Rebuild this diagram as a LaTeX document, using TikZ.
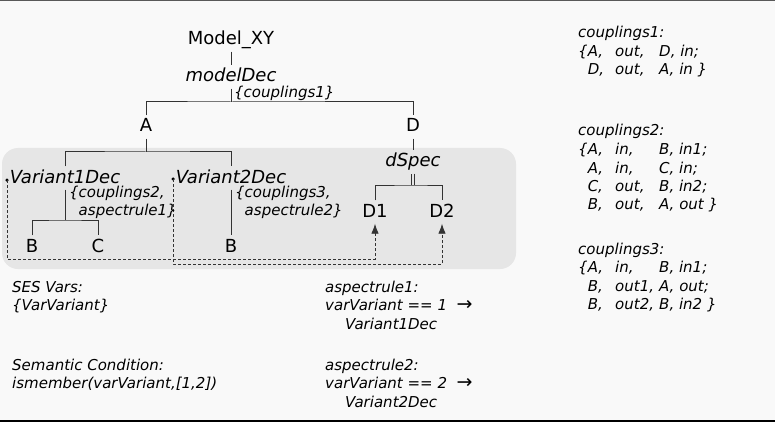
\documentclass[tikz,border=0pt]{standalone}
\usepackage{fontspec}
\setmainfont{DejaVu Sans}
\usetikzlibrary{arrows.meta}
\definecolor{paper}{HTML}{F9F9F9}
\definecolor{boxfill}{HTML}{E6E6E6}
\definecolor{treeline}{HTML}{333333}

\begin{document}
\begin{tikzpicture}[x=1pt,y=-1pt,
  ent/.style={inner xsep=2pt, inner ysep=3.5pt, text height=13pt, text depth=3pt, font=\fontsize{18}{22}\selectfont},
  dec/.style={ent, font=\fontsize{18}{22}\selectfont\itshape},
  note/.style={anchor=base west, inner sep=0pt, font=\fontsize{15}{18.5}\selectfont\itshape},
  branch/.style={draw=treeline, line width=1pt},
  spec/.style={draw=treeline, double=boxfill, double distance=2pt, line width=0.8pt},
  sel/.style={draw=treeline, line width=0.9pt, dash pattern=on 3pt off 2pt, -{Latex[length=10pt,width=7.5pt]}},
  pin/.style={circle, fill=black, inner sep=0pt, minimum size=3.5pt}]
\useasboundingbox (0,0) rectangle (775,422);
\fill[paper] (0,0) rectangle (775,422);
\draw[black!65, line width=1.5pt] (0,0.75) -- (775,0.75);
\draw[black, line width=2pt] (0,420.5) -- (775,420.5);
\fill[boxfill, rounded corners=16pt] (2,148) rectangle (516,269);

% tree
\node[ent] (mxy) at (231,40) {Model\_XY};
\node[dec] (mdec) at (231,77) {modelDec};
\node[ent] (A) at (146,127) {A};
\node[ent] (D) at (413,127) {D};
\node[dec] (v1) at (65,178) {Variant1Dec};
\node[dec] (v2) at (231,178) {Variant2Dec};
\node[dec] (dspec) at (413,162) {dSpec};
\node[ent] (B1) at (32,247) {B};
\node[ent] (C) at (98,247) {C};
\node[ent] (B2) at (231,247) {B};
\node[ent] (D1) at (375,212) {D1};
\node[ent] (D2) at (442,212) {D2};

\coordinate (top) at (231,102);
\coordinate (abar) at (146,152);
\coordinate (v1bar) at (65,220);
\coordinate (dbar) at (413,185);

\draw[branch] (mxy.south) -- (mdec.north);
\draw[branch] (mdec.south) -- (top);
\draw[branch] (A.north) |- (top) -| (D.north);
\draw[branch] (A.south) -- (abar);
\draw[branch] (v1.north) |- (abar) -| (v2.north);
\draw[branch] (v1.south) -- (v1bar);
\draw[branch] (B1.north) |- (v1bar) -| (C.north);
\draw[branch] (v2.south) -- (B2.north);
\draw[branch] (D.south) -- (dspec.north);
\draw[spec] (dspec.south) -- (dbar);
\draw[branch] (D1.north) |- (dbar) -| (D2.north);

% selection links
\node[pin] (p1) at (7,180) {};
\node[pin] (p2) at (173,179) {};
\coordinate (low1) at (7,259);
\coordinate (low2) at (173,264);
\draw[sel] (p1.center) -- (low1) -| (D1.south);
\draw[sel] (p2.center) -- (low2) -| (D2.south);

% couplings on the tree
\node[note] (c1lbl) at (234,98) {\{couplings1\}};
\node[note] (c2lbl) at (69,197) {\begin{tabular}[t]{@{}l@{}}\{couplings2,\\\phantom{\{}aspectrule1\}\end{tabular}};
\node[note] (c3lbl) at (235,197) {\begin{tabular}[t]{@{}l@{}}\{couplings3,\\\phantom{\{}aspectrule2\}\end{tabular}};

% notes below
\node[note] (sesvars) at (12,292) {\begin{tabular}[t]{@{}l@{}}SES Vars:\\\{VarVariant\}\end{tabular}};
\node[note] (semcond) at (12,370) {\begin{tabular}[t]{@{}l@{}}Semantic Condition:\\ismember(varVariant,[1,2])\end{tabular}};
\node[note] (rule1) at (325,292) {\begin{tabular}[t]{@{}l@{}}aspectrule1:\\varVariant == 1 \ {\upshape\fontsize{19}{18.5}\selectfont →}\\\hspace*{20pt}Variant1Dec\end{tabular}};
\node[note] (rule2) at (325,370) {\begin{tabular}[t]{@{}l@{}}aspectrule2:\\varVariant == 2 \ {\upshape\fontsize{19}{18.5}\selectfont →}\\\hspace*{20pt}Variant2Dec\end{tabular}};

% coupling lists
\node[note] (cp1) at (578,38) {\begin{tabular}[t]{@{}p{37pt}@{}p{44pt}@{}l@{}}
\multicolumn{3}{@{}l@{}}{couplings1:}\\
\{A, & out, & D, in;\\
\phantom{\{}D, & out, & A, in \}
\end{tabular}};
\node[note] (cp2) at (578,136) {\begin{tabular}[t]{@{}p{37pt}@{}p{44pt}@{}l@{}}
\multicolumn{3}{@{}l@{}}{couplings2:}\\
\{A, & in, & B, in1;\\
\phantom{\{}A, & in, & C, in;\\
\phantom{\{}C, & out, & B, in2;\\
\phantom{\{}B, & out, & A, out \}
\end{tabular}};
\node[note] (cp3) at (578,254) {\begin{tabular}[t]{@{}p{37pt}@{}p{44pt}@{}l@{}}
\multicolumn{3}{@{}l@{}}{couplings3:}\\
\{A, & in, & B, in1;\\
\phantom{\{}B, & out1, & A, out;\\
\phantom{\{}B, & out2, & B, in2 \}
\end{tabular}};
\end{tikzpicture}
\end{document}
